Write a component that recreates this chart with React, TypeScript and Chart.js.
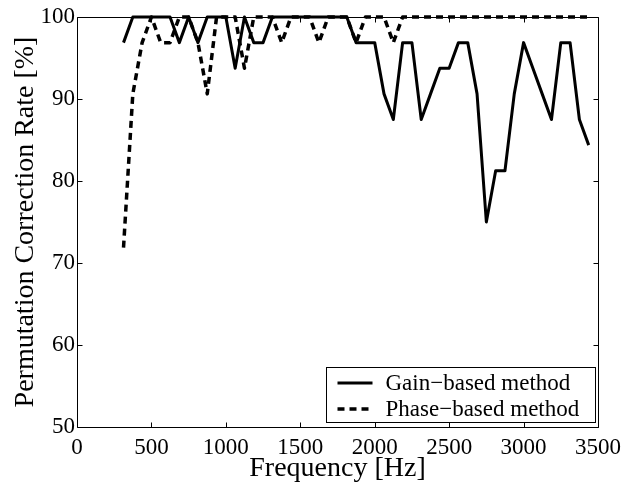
import React, { useEffect, useRef } from "react";
import { Chart, registerables } from "chart.js";

Chart.register(...registerables);

const frequencies = [
  312.5, 375, 437.5, 500, 562.5, 625, 687.5, 750, 812.5, 875, 937.5, 1000,
  1062.5, 1125, 1187.5, 1250, 1312.5, 1375, 1437.5, 1500, 1562.5, 1625,
  1687.5, 1750, 1812.5, 1875, 1937.5, 2000, 2062.5, 2125, 2187.5, 2250,
  2312.5, 2375, 2437.5, 2500, 2562.5, 2625, 2687.5, 2750, 2812.5, 2875,
  2937.5, 3000, 3062.5, 3125, 3187.5, 3250, 3312.5, 3375, 3437.5,
];

const gainRates = [
  96.875, 100, 100, 100, 100, 100, 96.875, 100, 96.875, 100, 100, 100,
  93.75, 100, 96.875, 96.875, 100, 100, 100, 100, 100, 100,
  100, 100, 100, 96.875, 96.875, 96.875, 90.625, 87.5, 96.875, 96.875,
  87.5, 90.625, 93.75, 93.75, 96.875, 96.875, 90.625, 75, 81.25, 81.25,
  90.625, 96.875, 93.75, 90.625, 87.5, 96.875, 96.875, 87.5, 84.375,
];

const phaseRates = [
  71.875, 90.625, 96.875, 100, 96.875, 96.875, 100, 100, 96.875, 90.625, 100, 100,
  100, 93.75, 100, 100, 100, 96.875, 100, 100, 100, 96.875,
  100, 100, 100, 96.875, 100, 100, 100, 96.875, 100, 100,
  100, 100, 100, 100, 100, 100, 100, 100, 100, 100,
  100, 100, 100, 100, 100, 100, 100, 100, 100,
];

const xTicks = [0, 500, 1000, 1500, 2000, 2500, 3000, 3500];
const yTicks = [50, 60, 70, 80, 90, 100];
const seriesLabels = ["Gain\u2212based method", "Phase\u2212based method"];
const xTitle = "Frequency [Hz]";
const yTitle = "Permutation Correction Rate [%]";

const FONT_FAMILY = "'Liberation Serif', 'Times New Roman', serif";
const TICK_FONT = { family: FONT_FAMILY, size: 23 };
const TITLE_FONT = { family: FONT_FAMILY, size: 28, lineHeight: 1 };
const DASH = [7, 5];

const framePlugin = {
  id: "frameAndLegend",
  afterDraw(chart: any) {
    const { ctx, chartArea: ca, scales } = chart;
    ctx.save();
    ctx.strokeStyle = "#000";
    ctx.lineWidth = 1;
    ctx.setLineDash([]);
    const L = Math.round(ca.left) + 0.5;
    const R = Math.round(ca.right) + 0.5;
    const T = Math.round(ca.top) + 0.5;
    const B = Math.round(ca.bottom) + 0.5;
    ctx.beginPath();
    ctx.rect(L, T, R - L, B - T);
    ctx.stroke();
    const tl = 5;
    ctx.beginPath();
    scales.x.ticks.forEach((t: any) => {
      const px = Math.round(scales.x.getPixelForValue(t.value)) + 0.5;
      ctx.moveTo(px, B);
      ctx.lineTo(px, B - tl);
      ctx.moveTo(px, T);
      ctx.lineTo(px, T + tl);
    });
    scales.y.ticks.forEach((t: any) => {
      const py = Math.round(scales.y.getPixelForValue(t.value)) + 0.5;
      ctx.moveTo(L, py);
      ctx.lineTo(L + tl, py);
      ctx.moveTo(R, py);
      ctx.lineTo(R - tl, py);
    });
    ctx.stroke();

    // legend box
    const w = 269;
    const h = 55;
    const x0 = Math.round(ca.right) - 3 - w + 0.5;
    const y0 = Math.round(ca.bottom) - 5 - h + 0.5;
    ctx.fillStyle = "#fff";
    ctx.fillRect(x0, y0, w, h);
    ctx.strokeStyle = "#000";
    ctx.lineWidth = 1;
    ctx.strokeRect(x0, y0, w, h);
    const rows = [y0 + 15, y0 + 41];
    chart.data.datasets.forEach((ds: any, i: number) => {
      const cy = Math.round(rows[i]);
      ctx.beginPath();
      ctx.lineWidth = ds.borderWidth;
      ctx.setLineDash(ds.borderDash || []);
      ctx.lineCap = "butt";
      ctx.moveTo(x0 + 11, cy);
      ctx.lineTo(x0 + 46, cy);
      ctx.stroke();
      ctx.setLineDash([]);
      ctx.fillStyle = "#000";
      ctx.font = `${TICK_FONT.size}px ${FONT_FAMILY}`;
      ctx.textAlign = "left";
      ctx.textBaseline = "middle";
      ctx.fillText(ds.label, x0 + 59, cy + 1);
    });
    ctx.restore();
  },
};

export default function App() {
  const canvasRef = useRef<HTMLCanvasElement | null>(null);

  useEffect(() => {
    document.body.style.margin = "0";
    const canvas = canvasRef.current;
    if (!canvas) return;
    const chart = new Chart(canvas, {
      type: "line",
      data: {
        datasets: [
          {
            label: seriesLabels[0],
            data: frequencies.map((f, i) => ({ x: f, y: gainRates[i] })),
            borderColor: "#000",
            backgroundColor: "#000",
            borderWidth: 3,
            pointRadius: 0,
            tension: 0,
            fill: false,
            clip: false,
            borderJoinStyle: "round",
          },
          {
            label: seriesLabels[1],
            data: frequencies.map((f, i) => ({ x: f, y: phaseRates[i] })),
            borderColor: "#000",
            backgroundColor: "#000",
            borderWidth: 3.5,
            borderDash: DASH,
            borderCapStyle: "butt",
            borderJoinStyle: "round",
            pointRadius: 0,
            tension: 0,
            fill: false,
            clip: false,
          },
        ],
      },
      options: {
        animation: false,
        responsive: false,
        maintainAspectRatio: false,
        devicePixelRatio: 1,
        layout: { padding: { top: 17, right: 34, left: 0, bottom: 0 } },
        plugins: {
          legend: { display: false },
          tooltip: { enabled: false },
        },
        scales: {
          x: {
            type: "linear",
            min: 0,
            max: 3500,
            afterBuildTicks: (s: any) => {
              s.ticks = xTicks.map((v) => ({ value: v }));
            },
            afterFit: (s: any) => {
              s.height = 56;
            },
            grid: { display: false, drawTicks: false },
            border: { display: false },
            ticks: {
              color: "#000",
              font: TICK_FONT,
              padding: 7,
              maxRotation: 0,
              autoSkip: false,
              callback: (v: any) => String(v),
            },
            title: {
              display: true,
              text: xTitle,
              color: "#000",
              font: TITLE_FONT,
              padding: { top: 0, bottom: 0 },
            },
          },
          y: {
            type: "linear",
            min: 50,
            max: 100,
            afterBuildTicks: (s: any) => {
              s.ticks = yTicks.map((v) => ({ value: v }));
            },
            afterFit: (s: any) => {
              s.width = 77;
            },
            grid: { display: false, drawTicks: false },
            border: { display: false },
            ticks: {
              color: "#000",
              font: TICK_FONT,
              padding: 2,
              autoSkip: false,
              callback: (v: any) => String(v),
            },
            title: {
              display: true,
              text: yTitle,
              color: "#000",
              font: TITLE_FONT,
              padding: { top: 12, bottom: 0 },
            },
          },
        },
      },
      plugins: [framePlugin],
    } as any);
    return () => chart.destroy();
  }, []);

  return (
    <div style={{ position: "fixed", left: 0, top: 0, width: 632, height: 483, background: "#fff" }}>
      <canvas ref={canvasRef} width={632} height={483} style={{ width: 632, height: 483, display: "block" }} />
    </div>
  );
}
